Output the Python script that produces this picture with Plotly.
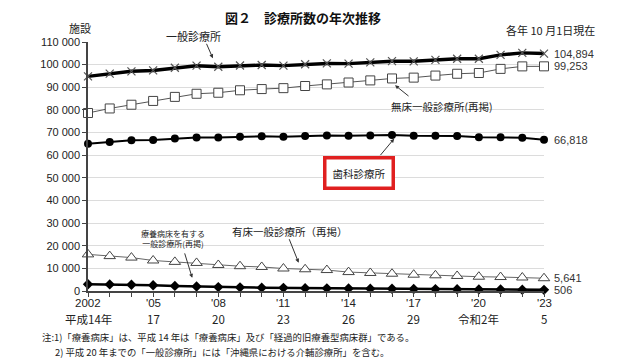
import plotly.graph_objects as go

years = list(range(2002, 2024))
general = [94819, 96050, 97051, 97442, 98609, 99532, 99083, 99635, 99824, 99547, 100152,
           100528, 100461, 100995, 101529, 101471, 102105, 102616, 102612, 104292, 105182, 104894]
no_bed = [78641, 80642, 82286, 83965, 85751, 87133, 87583, 88677, 89204, 89613, 90556,
          91279, 92106, 93034, 93900, 94269, 95171, 95972, 96309, 98123, 99224, 99253]
dental = [65073, 65828, 66557, 66732, 67392, 67798, 67779, 68097, 68384, 68156, 68474,
          68701, 68592, 68737, 68940, 68609, 68613, 68500, 67874, 67899, 67755, 66818]
with_bed = [16178, 15408, 14765, 13477, 12858, 12399, 11500, 10958, 10620, 9934, 9596,
            9249, 8355, 7961, 7629, 7202, 6934, 6644, 6303, 6169, 5958, 5641]
ltc_bed = [2979, 2909, 2786, 2544, 2260, 1985, 1728, 1617, 1485, 1385, 1269,
           1170, 1125, 1038, 993, 902, 847, 780, 699, 662, 562, 506]

xtick_top = {2002: "2002", 2005: "'05", 2008: "'08", 2011: "'11", 2014: "'14",
             2017: "'17", 2020: "'20", 2023: "'23"}
xtick_bottom = {2002: "平成14年", 2005: "17", 2008: "20", 2011: "23", 2014: "26",
                2017: "29", 2020: "令和2年", 2023: "5"}
yticks = list(range(0, 110001, 10000))
ytick_text = [f"{v:,}".replace(",", " ") for v in yticks]

FONT = "Liberation Sans, Noto Sans CJK JP, sans-serif"
JP = "Noto Sans CJK JP, sans-serif"

# page body margin offsets the figure by 8px; compensate
OFF = 8
W, H = 640, 360
L, T = 88 - OFF, 42 - OFF
R = W - (544 - OFF)
B = H - (291 - OFF)
PW, PH = W - L - R, H - T - B

def px(xs):
    return (xs - OFF - L) / PW

def py(ys):
    return (H - B - (ys - OFF)) / PH

fig = go.Figure()
fig.add_trace(go.Scatter(x=years, y=general, mode="lines+markers", cliponaxis=False,
                         line=dict(color="black", width=3.4),
                         marker=dict(symbol="x-thin-open", size=8, color="#555",
                                     line=dict(width=1.2, color="#555"))))
fig.add_trace(go.Scatter(x=years, y=no_bed, mode="lines+markers", cliponaxis=False,
                         line=dict(color="#555", width=1),
                         marker=dict(symbol="square", size=9, color="white",
                                     line=dict(width=1, color="#444"))))
fig.add_trace(go.Scatter(x=years, y=dental, mode="lines+markers", cliponaxis=False,
                         line=dict(color="black", width=2),
                         marker=dict(symbol="circle", size=8, color="black")))
fig.add_trace(go.Scatter(x=years, y=with_bed, mode="lines+markers", cliponaxis=False,
                         line=dict(color="#666", width=1),
                         marker=dict(symbol="triangle-up", size=10, color="white",
                                     line=dict(width=1, color="#444"))))
fig.add_trace(go.Scatter(x=years, y=ltc_bed, mode="lines+markers", cliponaxis=False,
                         line=dict(color="black", width=2.5),
                         marker=dict(symbol="diamond", size=8, color="black")))

ann = []
# end labels
for series in (general, no_bed, dental, with_bed, ltc_bed):
    ann.append(dict(x=years[-1], y=series[-1], text=f"{series[-1]:,}", showarrow=False,
                    xanchor="left", yanchor="middle", xshift=8,
                    font=dict(size=11, color="#333", family=FONT)))

def arrow(x, y, ax, ay):
    ann.append(dict(x=x, y=y, ax=ax, ay=ay, text="", showarrow=True, arrowhead=2,
                    arrowsize=0.8, arrowwidth=1, arrowcolor="#333"))

arrow(2007.75, 102800, -7, -16)
arrow(2016.14, 90900, 15, 12)
arrow(2016.1, 67300, -15, 18)
arrow(2006.8, 5800, -8, -26)
arrow(2011.7, 12500, -10, -25)

def label(x, y, text, size=12, **kw):
    ann.append(dict(x=x, y=y, text=text, showarrow=False, xanchor="center", yanchor="middle",
                    font=dict(size=size, color="#222", family=JP), **kw))

label(2006.86, 110000, "一般診療所", 11, yshift=6)
label(2018.3, 81600, "無床一般診療所(再掲)", 10.5)
label(2011.3, 26300, "有床一般診療所（再掲）", 10.5)
label(2005.9, 23200, "療養病床を有する<br>一般診療所(再掲)", 8)
ann.append(dict(x=2014.46, y=52300, text="歯科診療所", showarrow=False,
                xanchor="center", yanchor="middle",
                font=dict(size=10.5, color="#222", family=JP),
                bordercolor="#e02020", borderwidth=3.5, borderpad=6, bgcolor="white"))

# x tick labels (two rows)
for yr in xtick_top:
    ann.append(dict(x=yr, y=0, yshift=-12, text=xtick_top[yr], showarrow=False,
                    xanchor="center", yanchor="middle",
                    font=dict(size=11.5, color="#222", family=FONT)))
    ann.append(dict(x=yr, y=0, yshift=-28, text=xtick_bottom[yr], showarrow=False,
                    xanchor="center", yanchor="middle",
                    font=dict(size=11.5, color="#222", family=JP)))

# paper-level texts
def ptext(xs, ys, text, size, xanchor="center", color="#222"):
    ann.append(dict(xref="paper", yref="paper", x=px(xs), y=py(ys), text=text,
                    showarrow=False, xanchor=xanchor, yanchor="middle",
                    font=dict(size=size, color=color, family=JP)))

ptext(303, 17, "<b>図２　診療所数の年次推移</b>", 13, color="#111")
ptext(80, 28, "施設", 11)
ptext(597, 30, "各年 10 月1日現在", 11, xanchor="right")
ptext(40, 337, "注:1)「療養病床」は、平成 14 年は「療養病床」及び「経過的旧療養型病床群」である。", 9.4, xanchor="left")
ptext(53, 352, "2) 平成 20 年までの「一般診療所」には「沖縄県における介輔診療所」を含む。", 9.4, xanchor="left")

fig.update_layout(
    width=W, height=H,
    margin=dict(l=L, r=R, t=T, b=B, autoexpand=False),
    paper_bgcolor="white", plot_bgcolor="white",
    showlegend=False,
    annotations=ann,
    font=dict(family=FONT, size=11, color="#222"),
)
fig.update_xaxes(range=[2002, 2023], tickvals=years, ticktext=[""] * len(years),
                 ticks="outside", ticklen=4, tickcolor="#444", showgrid=False,
                 showline=True, linecolor="#444", linewidth=1.5, zeroline=False,
                 automargin=False)
fig.update_yaxes(range=[0, 110000], tickvals=yticks, ticktext=ytick_text,
                 ticks="outside", ticklen=4, tickcolor="#444",
                 showgrid=True, gridcolor="#dcdcdc", gridwidth=1,
                 showline=True, linecolor="#444", linewidth=1.5, zeroline=False,
                 tickfont=dict(size=11, color="#222"), automargin=False)

fig.write_html("out.html")
